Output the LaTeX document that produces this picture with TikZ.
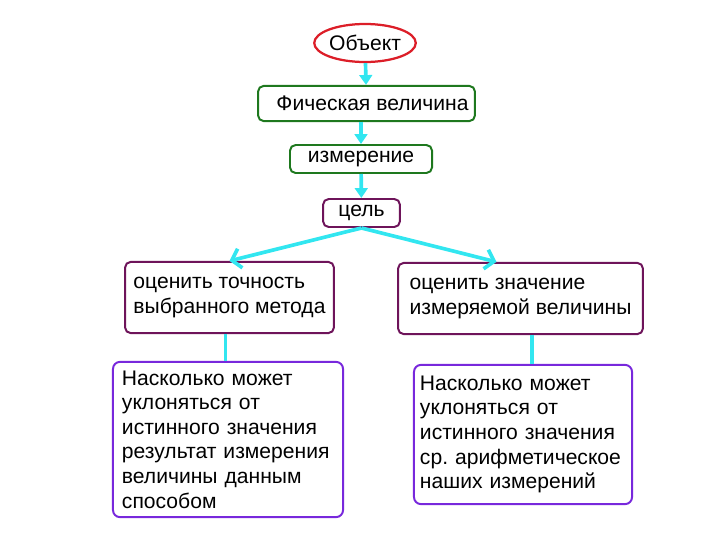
\documentclass[tikz,border=0pt]{standalone}
\usepackage{fontspec}
\setmainfont{Liberation Sans}
\usetikzlibrary{arrows.meta, shapes.geometric}
\definecolor{objred}{RGB}{220,30,40}
\definecolor{stepgreen}{RGB}{30,120,30}
\definecolor{goalplum}{RGB}{110,20,90}
\definecolor{answerviolet}{RGB}{120,40,220}
\definecolor{flowcyan}{RGB}{50,230,240}
\frenchspacing

\begin{document}
\begin{tikzpicture}[x=0.025cm, y=-0.025cm,
  obj/.style={ellipse, draw=objred, line width=1.6pt, inner sep=0pt,
              font=\fontsize{15}{17}\selectfont},
  stepbox/.style={rectangle, rounded corners=4pt, draw=stepgreen, line width=1.4pt,
              inner sep=0pt, font=\fontsize{15}{17}\selectfont},
  goal/.style={rectangle, rounded corners=4pt, draw=goalplum, line width=1.4pt,
              inner sep=0pt, font=\fontsize{15}{17.5}\selectfont},
  answer/.style={rectangle, rounded corners=5pt, draw=answerviolet, line width=1.4pt,
              inner sep=0pt, align=left, font=\fontsize{15}{17.5}\selectfont},
  flow/.style={-{Triangle[length=7pt, width=9pt]}, line width=2.6pt, color=flowcyan},
  fork/.style={-{Straight Barb[length=6pt, width=14pt]}, line width=2.6pt, color=flowcyan},
  link/.style={line width=2.6pt, color=flowcyan}
]
  \useasboundingbox (0,0) rectangle (720,540);

  \node[obj, minimum width=2.35cm, minimum height=0.95cm] (obj) at (365,43) {Объект};
  \node[stepbox, minimum width=5.42cm, minimum height=0.88cm] (qty) at (366.5,103.5) {\hspace{0.3cm}Фическая величина};
  \node[stepbox, minimum width=3.55cm, minimum height=0.7cm] (meas) at (361,159) {измерение};
  \node[goal, minimum width=1.92cm, minimum height=0.7cm] (goal) at (361.5,213) {цель};

  \node[goal, minimum width=5.22cm, minimum height=1.78cm, align=left] (acc) at (229.5,297.5)
    {оценить точность\\выбранного метода};
  \node[goal, minimum width=6.12cm, minimum height=1.78cm, align=left] (val) at (520.5,298.5)
    {оценить значение\\измеряемой величины};

  \node[answer, minimum width=5.75cm, minimum height=3.88cm, text width=5.3cm] (dev1) at (228,439.5)
    {Насколько может\\уклоняться от\\истинного значения\\результат измерения\\величины данным\\способом};
  \node[answer, minimum width=5.45cm, minimum height=3.48cm, text width=5.15cm] (dev2) at (523,434.5)
    {Насколько может\\уклоняться от\\истинного значения\\ср. арифметическое\\наших измерений};

  \draw[flow] (obj) -- (qty);
  \draw[flow] (qty.south -| meas.north) -- (meas);
  \draw[flow] (meas) -- (goal);
  \draw[fork] (goal.south) -- (acc.north);
  \draw[fork] (goal.south) -- ([xshift=-0.6cm]val.north);
  \draw[link] ([xshift=-0.1cm]acc.south) -- ([xshift=-0.1cm]acc.south |- dev1.north);
  \draw[link] ([xshift=0.29cm]val.south) -- ([xshift=0.29cm]val.south |- dev2.north);
\end{tikzpicture}
\end{document}
